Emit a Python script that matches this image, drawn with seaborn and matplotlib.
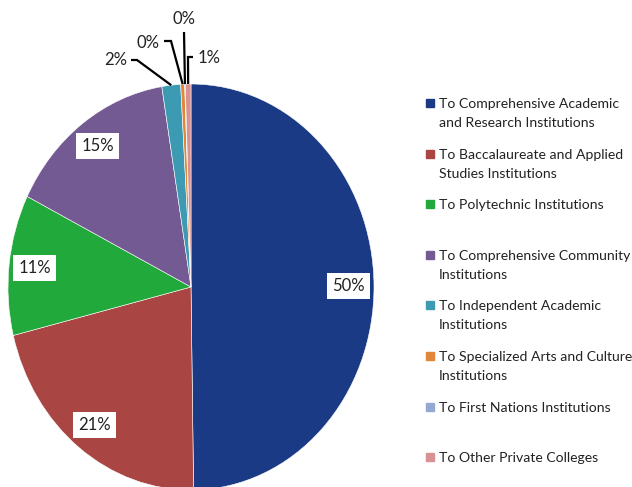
import numpy as np
import seaborn as sns
import matplotlib.pyplot as plt

# data
categories = [
    "To Comprehensive Academic\nand Research Institutions",
    "To Baccalaureate and Applied\nStudies Institutions",
    "To Polytechnic Institutions",
    "To Comprehensive Community\nInstitutions",
    "To Independent Academic\nInstitutions",
    "To Specialized Arts and Culture\nInstitutions",
    "To First Nations Institutions",
    "To Other Private Colleges",
]
shares = [49.8, 21.4, 11.2, 15.1, 1.65, 0.35, 0.05, 0.5]
pct_labels = ["50%", "21%", "11%", "15%", "2%", "0%", "0%", "1%"]
colors = ["#1b3a85", "#a94644", "#22a93c", "#735a93", "#3c9ab2", "#e0873a", "#94a9d1", "#d99294"]

sns.set_style("white")
plt.rcParams["font.family"] = ["Lato", "DejaVu Sans"]

W, H = 632, 487
fig = plt.figure(figsize=(W / 100, H / 100), dpi=100)

# pie is drawn slightly stretched vertically, like the original
cx, cy, rx, ry = 191, 287, 183, 203
ax = fig.add_axes([(cx - rx) / W, (H - cy - ry) / H, 2 * rx / W, 2 * ry / H])
wedges, _ = ax.pie(shares, colors=sns.color_palette(colors), startangle=90, counterclock=False,
                   wedgeprops=dict(edgecolor="white", linewidth=0.4))
ax.set_aspect("auto")
ax.set_xlim(-1, 1)
ax.set_ylim(-1, 1)
ax.axis("off")


def px(x, y):
    return (x - cx) / rx, (cy - y) / ry


box = dict(boxstyle="square,pad=0.3", fc="white", ec="none")
# inside labels for the big slices
for w, lab in zip(wedges[:4], pct_labels[:4]):
    ang = np.deg2rad((w.theta1 + w.theta2) / 2)
    ax.text(0.86 * np.cos(ang), 0.86 * np.sin(ang), lab, ha="center", va="center",
            fontsize=12, color="#222222", bbox=box)

# outside labels with leader lines (text pos, elbow pos, line end near text)
outside = [
    ((116, 60), (137, 60), (131, 60)),
    ((148, 43), (171, 41), (164, 41)),
    ((184, 19), (184, 32), (184, 32)),
    ((209, 58), (188, 57), (193, 57)),
]
for w, lab, (tpos, elbow, tend) in zip(wedges[4:], pct_labels[4:], outside):
    ang = np.deg2rad((w.theta1 + w.theta2) / 2)
    x0, y0 = np.cos(ang), np.sin(ang)
    ex, ey = px(*elbow)
    tx, ty = px(*tend)
    ax.plot([x0, ex, tx], [y0, ey, ty], color="black", lw=1.6, clip_on=False,
            solid_capstyle="butt", solid_joinstyle="miter")
    ax.text(*px(*tpos), lab, ha="center", va="center", fontsize=12, color="#222222")

# legend drawn by hand to keep the uneven wrapping of the original
for i, (lab, c) in enumerate(zip(categories, colors)):
    base = 108 + i * 50.6
    fig.patches.append(plt.Rectangle((426 / W, 1 - (base - 1) / H), 8 / W, 8 / H,
                                     transform=fig.transFigure, color=c))
    for j, line in enumerate(lab.split("\n")):
        fig.text(439 / W, 1 - (base + j * 19) / H, line, ha="left", va="baseline",
                 fontsize=10.1, color="#222222")

plt.savefig("out.png", dpi=100)
plt.close()
